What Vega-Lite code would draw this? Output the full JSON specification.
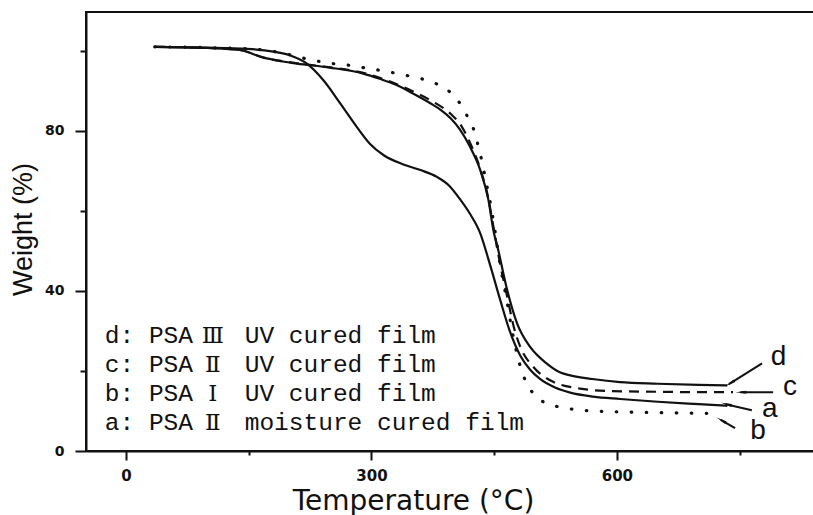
{
  "$schema": "https://vega.github.io/schema/vega-lite/v6.json",
  "width": 728,
  "height": 439,
  "autosize": "none",
  "padding": {"left": 86, "top": 12, "right": 0, "bottom": 64},
  "background": "white",
  "config": {
    "view": {"stroke": "#111", "strokeWidth": 2},
    "axis": {"grid": false, "domainColor": "#111", "domainWidth": 2, "tickColor": "#111", "tickWidth": 2, "labelColor": "#111", "titleColor": "#111"}
  },
  "datasets": {
    "tga": [
      {"s": "a", "T": 35, "W": 101}, {"s": "a", "T": 60, "W": 100.9}, {"s": "a", "T": 100, "W": 100.8}, {"s": "a", "T": 148, "W": 100.5},
      {"s": "a", "T": 180, "W": 99.8}, {"s": "a", "T": 200, "W": 98.9}, {"s": "a", "T": 221, "W": 96.8}, {"s": "a", "T": 241, "W": 92.7},
      {"s": "a", "T": 262, "W": 86.8}, {"s": "a", "T": 282, "W": 81}, {"s": "a", "T": 298, "W": 76.8}, {"s": "a", "T": 315, "W": 73.9},
      {"s": "a", "T": 339, "W": 71.6}, {"s": "a", "T": 360, "W": 70.2}, {"s": "a", "T": 380, "W": 68.5}, {"s": "a", "T": 395, "W": 66.3},
      {"s": "a", "T": 408, "W": 63}, {"s": "a", "T": 420, "W": 59.4}, {"s": "a", "T": 433, "W": 54.4}, {"s": "a", "T": 445, "W": 46.5},
      {"s": "a", "T": 457, "W": 38}, {"s": "a", "T": 469, "W": 30}, {"s": "a", "T": 482, "W": 23.8}, {"s": "a", "T": 494, "W": 20.3},
      {"s": "a", "T": 506, "W": 18}, {"s": "a", "T": 525, "W": 15.8}, {"s": "a", "T": 543, "W": 14.6}, {"s": "a", "T": 571, "W": 13.6},
      {"s": "a", "T": 604, "W": 13}, {"s": "a", "T": 650, "W": 12.3}, {"s": "a", "T": 700, "W": 11.7}, {"s": "a", "T": 735, "W": 11.3},

      {"s": "b", "T": 35, "W": 101}, {"s": "b", "T": 100, "W": 100.8}, {"s": "b", "T": 150, "W": 100.5}, {"s": "b", "T": 190, "W": 99.5},
      {"s": "b", "T": 216, "W": 98.2}, {"s": "b", "T": 235, "W": 97.4}, {"s": "b", "T": 253, "W": 96.8}, {"s": "b", "T": 272, "W": 96.4},
      {"s": "b", "T": 290, "W": 95.8}, {"s": "b", "T": 308, "W": 95.2}, {"s": "b", "T": 327, "W": 94.5}, {"s": "b", "T": 345, "W": 93.75},
      {"s": "b", "T": 363, "W": 92.9}, {"s": "b", "T": 380, "W": 91.7}, {"s": "b", "T": 397, "W": 89.5}, {"s": "b", "T": 410, "W": 86.3},
      {"s": "b", "T": 418, "W": 83.3}, {"s": "b", "T": 425, "W": 80.3}, {"s": "b", "T": 429, "W": 77.4}, {"s": "b", "T": 433, "W": 74.3},
      {"s": "b", "T": 436, "W": 71.2}, {"s": "b", "T": 439, "W": 68.5}, {"s": "b", "T": 442, "W": 65.3}, {"s": "b", "T": 445, "W": 62.3},
      {"s": "b", "T": 451, "W": 55}, {"s": "b", "T": 457, "W": 47}, {"s": "b", "T": 465, "W": 38.1}, {"s": "b", "T": 473, "W": 28.9},
      {"s": "b", "T": 484, "W": 19.8}, {"s": "b", "T": 490, "W": 16.8}, {"s": "b", "T": 500, "W": 13.9}, {"s": "b", "T": 516, "W": 11.7},
      {"s": "b", "T": 534, "W": 10.9}, {"s": "b", "T": 555, "W": 10.2}, {"s": "b", "T": 600, "W": 9.8}, {"s": "b", "T": 650, "W": 9.6},
      {"s": "b", "T": 717, "W": 9.4},

      {"s": "c", "T": 35, "W": 101}, {"s": "c", "T": 100, "W": 100.7}, {"s": "c", "T": 139, "W": 100.2}, {"s": "c", "T": 168, "W": 98.3},
      {"s": "c", "T": 209, "W": 96.9}, {"s": "c", "T": 249, "W": 95.9}, {"s": "c", "T": 290, "W": 94.5}, {"s": "c", "T": 319, "W": 92.6},
      {"s": "c", "T": 349, "W": 90}, {"s": "c", "T": 375, "W": 87.3}, {"s": "c", "T": 397, "W": 84.2}, {"s": "c", "T": 410, "W": 81.2},
      {"s": "c", "T": 421, "W": 76.8}, {"s": "c", "T": 433, "W": 70.5}, {"s": "c", "T": 443, "W": 63}, {"s": "c", "T": 450, "W": 55}, {"s": "c", "T": 457, "W": 47},
      {"s": "c", "T": 466, "W": 38.5}, {"s": "c", "T": 474, "W": 31}, {"s": "c", "T": 482, "W": 26}, {"s": "c", "T": 498, "W": 21},
      {"s": "c", "T": 522, "W": 17.3}, {"s": "c", "T": 555, "W": 15.6}, {"s": "c", "T": 588, "W": 15}, {"s": "c", "T": 650, "W": 14.8},
      {"s": "c", "T": 700, "W": 14.7}, {"s": "c", "T": 742, "W": 14.7},

      {"s": "d", "T": 35, "W": 101}, {"s": "d", "T": 100, "W": 100.7}, {"s": "d", "T": 139, "W": 100.2}, {"s": "d", "T": 168, "W": 98.3},
      {"s": "d", "T": 190, "W": 97.4}, {"s": "d", "T": 209, "W": 96.8}, {"s": "d", "T": 249, "W": 95.8}, {"s": "d", "T": 290, "W": 94.3},
      {"s": "d", "T": 310, "W": 93}, {"s": "d", "T": 330, "W": 91.5}, {"s": "d", "T": 351, "W": 89.3}, {"s": "d", "T": 372, "W": 86.9},
      {"s": "d", "T": 385, "W": 85.2}, {"s": "d", "T": 397, "W": 83.1}, {"s": "d", "T": 408, "W": 80.4}, {"s": "d", "T": 420, "W": 76.2}, {"s": "d", "T": 433, "W": 70.2},
      {"s": "d", "T": 443, "W": 62.7}, {"s": "d", "T": 449, "W": 55.2}, {"s": "d", "T": 455, "W": 50.2}, {"s": "d", "T": 465, "W": 41},
      {"s": "d", "T": 478, "W": 31.9}, {"s": "d", "T": 494, "W": 26}, {"s": "d", "T": 514, "W": 21.9}, {"s": "d", "T": 531, "W": 19.6},
      {"s": "d", "T": 543, "W": 18.9}, {"s": "d", "T": 570, "W": 18}, {"s": "d", "T": 604, "W": 17.2}, {"s": "d", "T": 650, "W": 16.8},
      {"s": "d", "T": 700, "W": 16.5}, {"s": "d", "T": 735, "W": 16.4}
    ],
    "notes": [
      {"T": -26, "W": 26.9, "txt": "d: PSA"}, {"T": 145, "W": 26.9, "txt": "UV cured film"},
      {"T": -26, "W": 19.8, "txt": "c: PSA"}, {"T": 145, "W": 19.8, "txt": "UV cured film"},
      {"T": -26, "W": 12.55, "txt": "b: PSA"}, {"T": 145, "W": 12.55, "txt": "UV cured film"},
      {"T": -26, "W": 5.18, "txt": "a: PSA"}, {"T": 145, "W": 5.18, "txt": "moisture cured film"}
    ],
    "numerals": [
      {"T": 106, "W": 26.9, "txt": "Ⅲ"},
      {"T": 106, "W": 19.8, "txt": "Ⅱ"},
      {"T": 106, "W": 12.55, "txt": "Ⅰ"},
      {"T": 106, "W": 5.18, "txt": "Ⅱ"}
    ],
    "tags": [
      {"T": 788, "W": 21.4, "txt": "d"},
      {"T": 803, "W": 13.9, "txt": "c"},
      {"T": 777.5, "W": 8.5, "txt": "a"},
      {"T": 763, "W": 3.1, "txt": "b"}
    ],
    "arrows": [
      {"T": 777.5, "W": 21.9, "T2": 737, "W2": 16.7, "HT": 740, "HW": 17.1, "ang": 238},
      {"T": 791, "W": 14.7, "T2": 751, "W2": 14.7, "HT": 754, "HW": 14.7, "ang": 270},
      {"T": 765, "W": 10.2, "T2": 733, "W2": 11.7, "HT": 736, "HW": 11.6, "ang": 284},
      {"T": 744.5, "W": 5.7, "T2": 727, "W2": 7.8, "HT": 729.5, "HW": 7.5, "ang": 300}
    ]
  },
  "resolve": {"axis": {"x": "independent", "y": "independent"}},
  "layer": [
    {
      "data": {"name": "tga"},
      "transform": [{"filter": "datum.s === 'd'"}],
      "mark": {"type": "line", "color": "#111", "strokeWidth": 2.2, "interpolate": "monotone"},
      "encoding": {
        "x": {"field": "T", "type": "quantitative", "scale": {"domain": [-49, 841], "nice": false, "zero": false},
          "axis": {"orient": "bottom", "values": [0, 300, 600], "tickSize": 9, "labelFont": "DejaVu Sans", "labelFontWeight": "bold", "labelFontSize": 15, "labelPadding": 8,
            "title": "Temperature (°C)", "titleFont": "DejaVu Sans", "titleFontSize": 28, "titleFontWeight": "normal",
            "titleX": 327, "titleY": 58, "titleAlign": "center", "titleBaseline": "alphabetic"}},
        "y": {"field": "W", "type": "quantitative", "scale": {"domain": [0, 109.7], "nice": false, "zero": false},
          "axis": {"orient": "left", "values": [0, 40, 80], "tickSize": 11, "labelFont": "DejaVu Sans", "labelFontWeight": "bold", "labelFontSize": 14, "labelPadding": 11,
            "title": "Weight (%)", "titleFont": "Liberation Sans", "titleFontSize": 27, "titleFontWeight": "normal",
            "titleAngle": 270, "titleX": -63, "titleY": 217, "titleAlign": "center", "titleBaseline": "middle"}}
      }
    },
    {
      "data": {"name": "tga"},
      "transform": [{"filter": "datum.s === 'a'"}],
      "mark": {"type": "line", "color": "#111", "strokeWidth": 2.2, "interpolate": "monotone"},
      "encoding": {
        "x": {"field": "T", "type": "quantitative", "scale": {"domain": [-49, 841], "nice": false, "zero": false},
          "axis": {"orient": "bottom", "values": [150, 450, 750], "tickSize": 4, "labels": false, "domain": false, "title": null}},
        "y": {"field": "W", "type": "quantitative", "scale": {"domain": [0, 109.7], "nice": false, "zero": false},
          "axis": {"orient": "left", "values": [20, 60, 100], "tickSize": 6, "labels": false, "domain": false, "title": null}}
      }
    },
    {
      "data": {"name": "tga"},
      "transform": [{"filter": "datum.s === 'c'"}],
      "mark": {"type": "line", "color": "#111", "strokeWidth": 2.2, "strokeDash": [10, 7], "interpolate": "monotone"},
      "encoding": {
        "x": {"field": "T", "type": "quantitative", "axis": null},
        "y": {"field": "W", "type": "quantitative", "axis": null}
      }
    },
    {
      "data": {"name": "tga"},
      "transform": [{"filter": "datum.s === 'b'"}],
      "mark": {"type": "line", "color": "#111", "strokeWidth": 3.2, "strokeDash": [0.5, 14.5], "strokeCap": "round", "interpolate": "monotone"},
      "encoding": {
        "x": {"field": "T", "type": "quantitative", "axis": null},
        "y": {"field": "W", "type": "quantitative", "axis": null}
      }
    },
    {
      "data": {"name": "notes"},
      "mark": {"type": "text", "align": "left", "baseline": "alphabetic", "font": "'Liberation Mono', monospace", "fontSize": 24.5, "color": "#111"},
      "encoding": {
        "x": {"field": "T", "type": "quantitative", "axis": null},
        "y": {"field": "W", "type": "quantitative", "axis": null},
        "text": {"field": "txt"}
      }
    },
    {
      "data": {"name": "numerals"},
      "mark": {"type": "text", "align": "center", "baseline": "alphabetic", "font": "'DejaVu Serif', 'Noto Sans CJK SC'", "fontSize": 23, "color": "#111"},
      "encoding": {
        "x": {"field": "T", "type": "quantitative", "axis": null},
        "y": {"field": "W", "type": "quantitative", "axis": null},
        "text": {"field": "txt"}
      }
    },
    {
      "data": {"name": "tags"},
      "mark": {"type": "text", "align": "left", "baseline": "alphabetic", "font": "Liberation Sans", "fontSize": 28, "color": "#111"},
      "encoding": {
        "x": {"field": "T", "type": "quantitative", "axis": null},
        "y": {"field": "W", "type": "quantitative", "axis": null},
        "text": {"field": "txt"}
      }
    },
    {
      "data": {"name": "arrows"},
      "mark": {"type": "rule", "color": "#111", "strokeWidth": 2},
      "encoding": {
        "x": {"field": "T", "type": "quantitative", "axis": null},
        "y": {"field": "W", "type": "quantitative", "axis": null},
        "x2": {"field": "T2"},
        "y2": {"field": "W2"}
      }
    },
    {
      "data": {"name": "arrows"},
      "mark": {"type": "point", "shape": "wedge", "filled": true, "color": "#111", "size": 150, "opacity": 1},
      "encoding": {
        "x": {"field": "HT", "type": "quantitative", "axis": null},
        "y": {"field": "HW", "type": "quantitative", "axis": null},
        "angle": {"field": "ang", "type": "quantitative", "scale": null}
      }
    }
  ]
}
